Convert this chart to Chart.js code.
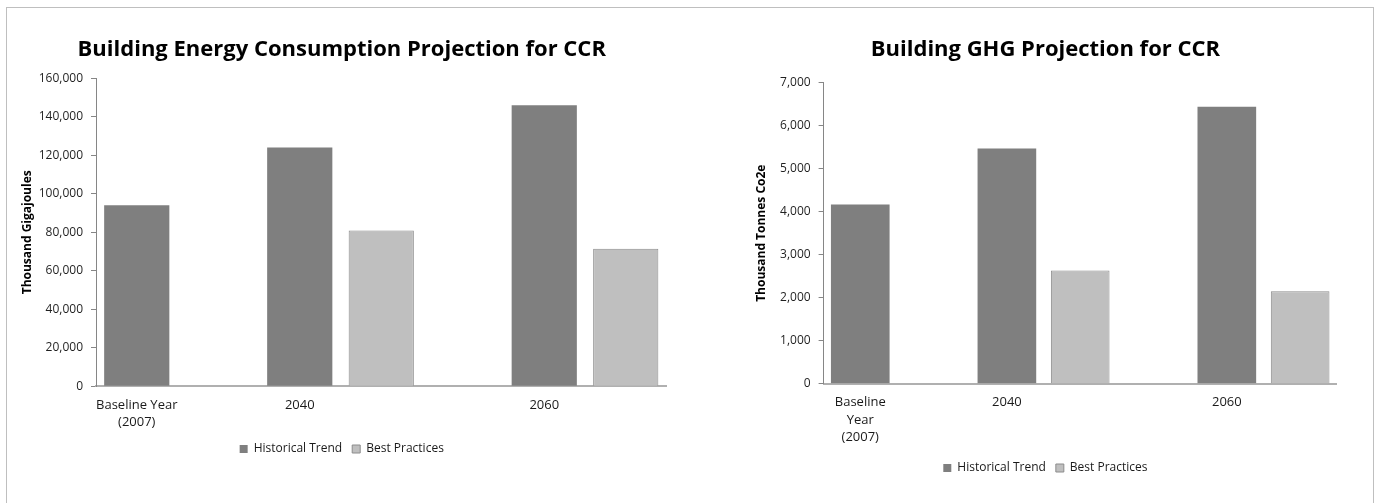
<!DOCTYPE html>
<html>
<head>
<meta charset="utf-8">
<script src="https://cdn.jsdelivr.net/npm/chart.js@4/dist/chart.umd.min.js"></script>
<style>
  html, body { margin: 0; padding: 0; background: #fff; }
  body { width: 1382px; height: 503px; position: relative; overflow: hidden; }
  #frame { position: absolute; left: 6px; top: 7px; width: 1368px; height: 520px;
           box-sizing: border-box; border: 1px solid #bfbfbf; }
  #energy { position: absolute; left: 0; top: 0; }
  #ghg { position: absolute; left: 690px; top: 0; }
</style>
</head>
<body>
<div id="frame"></div>
<canvas id="energy" width="690" height="503"></canvas>
<canvas id="ghg" width="692" height="503"></canvas>
<script>
// Series names
const seriesNames = ['Historical Trend', 'Best Practices'];

// Energy consumption (thousand GJ); blank slots keep the gaps between year groups
const energyCategories = [['Baseline Year', '(2007)'], '', '2040', '', '', '2060', ''];
const energyHistorical = [94000, null, 124000, null, null, 146000, null];
const energyBest = [null, null, null, 81000, null, null, 71500];
const energyTicks = [0, 20000, 40000, 60000, 80000, 100000, 120000, 140000, 160000];

// GHG emissions (thousand tonnes CO2e)
const ghgCategories = [['Baseline', 'Year', '(2007)'], '', '2040', '', '', '2060', ''];
const ghgHistorical = [4170, null, 5470, null, null, 6440, null];
const ghgBest = [null, null, null, 2630, null, null, 2150];
const ghgTicks = [0, 1000, 2000, 3000, 4000, 5000, 6000, 7000];

const FONT = "'Open Sans', 'DejaVu Sans', sans-serif";

function buildChart(canvasId, cfg) {
  const ticks = cfg.ticks;
  return new Chart(document.getElementById(canvasId), {
    type: 'bar',
    data: {
      labels: cfg.categories,
      datasets: [
        { label: seriesNames[0], data: cfg.historical,
          backgroundColor: '#7f7f7f', borderColor: '#7f7f7f', borderWidth: 0 },
        { label: seriesNames[1], data: cfg.best,
          backgroundColor: '#bfbfbf', borderColor: '#8c8c8c', borderWidth: 1 }
      ]
    },
    options: {
      responsive: false,
      animation: false,
      datasets: { bar: { grouped: false, categoryPercentage: 1.0, barPercentage: 0.8 } },
      layout: { padding: cfg.padding },
      plugins: {
        tooltip: { enabled: false },
        title: {
          display: true, text: cfg.title, color: '#000',
          font: { family: FONT, size: 22, weight: 'bold' },
          padding: { top: 6.8, bottom: cfg.titleGap }
        },
        legend: {
          position: 'bottom',
          labels: {
            boxWidth: 8, boxHeight: 8, padding: 10, color: '#1a1a1a',
            font: { family: FONT, size: 12 }
          }
        }
      },
      scales: {
        x: {
          grid: { display: false },
          border: { display: true, color: '#b0b0b0', width: 2 },
          ticks: {
            autoSkip: false, maxRotation: 0, minRotation: 0, padding: 2,
            color: '#1a1a1a', font: { family: FONT, size: 13, lineHeight: 1.35 }
          },
          afterFit: (s) => { s.height = cfg.xHeight; }
        },
        y: {
          min: ticks[0], max: ticks[ticks.length - 1],
          afterBuildTicks: (s) => { s.ticks = ticks.map(v => ({ value: v })); },
          grid: { display: true, drawOnChartArea: false, drawTicks: true, tickLength: 5, color: '#868686' },
          border: { display: true, color: '#868686', width: 1 },
          ticks: {
            padding: 8, color: '#1f1f1f', font: { family: FONT, size: 12 },
            callback: (v) => v.toLocaleString('en-US')
          },
          title: {
            display: true, text: cfg.yTitle, color: '#000',
            font: { family: FONT, size: 12, weight: 'bold' },
            padding: { top: cfg.yTitlePad, bottom: 0 }
          },
          afterFit: (s) => { s.width = cfg.yWidth; }
        }
      }
    }
  });
}

buildChart('energy', {
  title: 'Building Energy Consumption Projection for CCR',
  yTitle: 'Thousand Gigajoules',
  categories: energyCategories, historical: energyHistorical, best: energyBest, ticks: energyTicks,
  padding: { top: 30, left: 17, right: 23.5, bottom: 38 },
  titleGap: 15.1, xHeight: 46.7, yWidth: 79, yTitlePad: 3.8
});

buildChart('ghg', {
  title: 'Building GHG Projection for CCR',
  yTitle: 'Thousand Tonnes Co2e',
  categories: ghgCategories, historical: ghgHistorical, best: ghgBest, ticks: ghgTicks,
  padding: { top: 30, left: 64, right: 45.2, bottom: 19 },
  titleGap: 19.5, xHeight: 68.3, yWidth: 69.6, yTitlePad: 0
});
</script>
</body>
</html>
